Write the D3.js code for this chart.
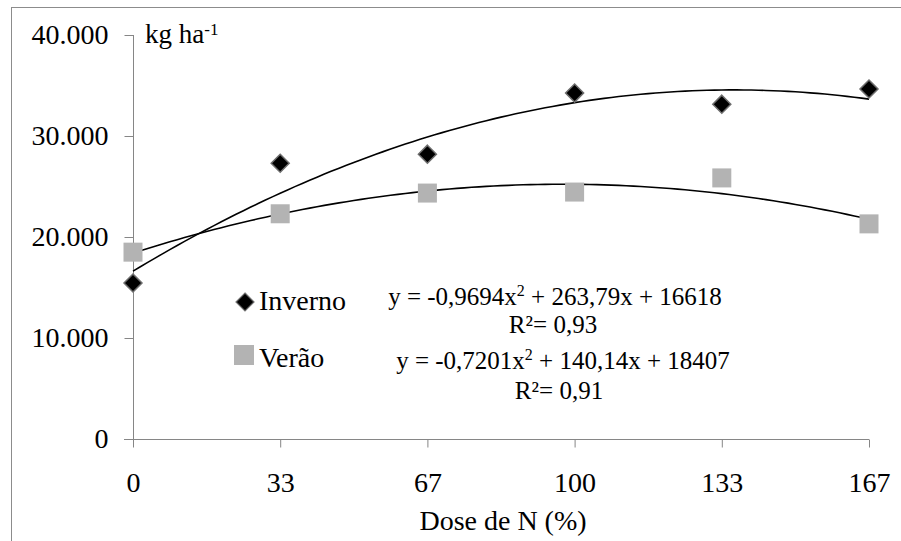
<!DOCTYPE html>
<html><head><meta charset="utf-8">
<script src="https://cdn.jsdelivr.net/npm/d3@7"></script>
</head>
<body style="margin:0;background:#fff"><svg id="c" width="901" height="541"></svg>
<script>
const doses = [0, 100/3, 200/3, 100, 400/3, 500/3];
const doseLabels = ["0","33","67","100","133","167"];
const inverno = [15450, 27300, 28200, 34250, 33150, 34650];
const verao = [18500, 22300, 24350, 24450, 25850, 21300];
const invernoCoef = [-0.9694, 263.79, 16618];
const veraoCoef = [-0.7201, 140.14, 18407];
const yTicks = [0, 10000, 20000, 30000, 40000];

const FONT = '"Liberation Serif"';
const svg = d3.select("#c");
svg.append("rect").attr("x",11.5).attr("y",7.5).attr("width",900).attr("height",540)
  .attr("fill","none").attr("stroke","#8c8c8c").attr("stroke-width",1);

const x = d3.scaleLinear().domain([0, 500/3]).range([133, 869]);
const y = d3.scaleLinear().domain([0, 40000]).range([439, 35]);
const loc = d3.formatLocale({decimal:",", thousands:".", grouping:[3], currency:["",""]});
const fmt = loc.format(",");

const gy = svg.append("g").attr("transform","translate(133.5,0)")
  .call(d3.axisLeft(y).tickValues(yTicks).tickFormat(fmt).tickSize(9).tickSizeOuter(0).tickPadding(16));
gy.attr("font-family","Liberation Serif");
gy.select(".domain").remove();
gy.append("line").attr("x1",0).attr("x2",0).attr("y1",y(40000)).attr("y2",447).attr("stroke","#868686");
gy.selectAll(".tick line").attr("stroke","#868686");
gy.selectAll(".tick text").attr("font-size",28).attr("fill","#000");

const gx = svg.append("g").attr("transform","translate(0,439.5)")
  .call(d3.axisBottom(x).tickValues(doses).tickFormat((d,i)=>doseLabels[i]).tickSize(8).tickSizeOuter(0).tickPadding(25));
gx.attr("font-family","Liberation Serif");
gx.select(".domain").remove();
gx.append("line").attr("x1",124).attr("x2",x(500/3)).attr("y1",0).attr("y2",0).attr("stroke","#868686");
gx.selectAll(".tick line").attr("stroke","#868686");
gx.selectAll(".tick text").attr("font-size",28).attr("fill","#000");

const T = (xx, yy, size) => svg.append("text").attr("x",xx).attr("y",yy).attr("font-size",size).attr("fill","#000");

T(503,530,28).attr("text-anchor","middle").text("Dose de N (%)");
const ku = T(145,43,27);
ku.append("tspan").text("kg ha");
ku.append("tspan").attr("font-size",17).attr("dy",-8).text("-1");

// trend curves (from the fitted equations)
const xs = d3.range(0, 500/3 + 0.01, 500/300);
const poly = c => v => c[0]*v*v + c[1]*v + c[2];
const line = d3.line().x(d=>x(d[0])).y(d=>y(d[1]));
[invernoCoef, veraoCoef].forEach(c=>{
  const f = poly(c);
  svg.append("path").attr("d", line(xs.map(v=>[v, f(v)]))).attr("fill","none").attr("stroke","#000").attr("stroke-width",1.6);
});

// markers
const sq = 19;
svg.selectAll(".sq").data(verao).enter().append("rect")
  .attr("x",(d,i)=>x(doses[i])-sq/2).attr("y",d=>y(d)-sq/2).attr("width",sq).attr("height",sq)
  .attr("fill","#b3b3b3");
const dm = 9;
const diamond = (cx,cy,r)=>`M${cx},${cy-r}L${cx+r},${cy}L${cx},${cy+r}L${cx-r},${cy}Z`;
svg.selectAll(".dm").data(inverno).enter().append("path")
  .attr("d",(d,i)=>diamond(x(doses[i]), y(d), dm))
  .attr("fill","#000").attr("stroke","#6e6e6e").attr("stroke-width",1.5);

// legend
svg.append("path").attr("d",diamond(245,302,9)).attr("fill","#000").attr("stroke","#6e6e6e").attr("stroke-width",1.2);
T(259,310,28).text("Inverno");
svg.append("rect").attr("x",234).attr("y",345).attr("width",20).attr("height",20).attr("fill","#b3b3b3");
T(259,367,28).text("Verão");

// equations
const eq = (xx, yy, a, b, c) => {
  const t = T(xx,yy,25).attr("text-anchor","middle");
  t.append("tspan").text(`y = ${a}x`);
  t.append("tspan").attr("font-size",16).attr("dy",-9).text("2");
  t.append("tspan").attr("dy",9).text(` + ${b}x + ${c}`);
};
eq(555, 305, "-0,9694", "263,79", "16618");
T(553,333,25).attr("text-anchor","middle").text("R²= 0,93");
eq(563, 369, "-0,7201", "140,14", "18407");
T(559,399,25).attr("text-anchor","middle").text("R²= 0,91");

svg.selectAll("text").each(function(){
  this.setAttribute("font-family", "Liberation Serif");
  this.style.setProperty("font-family", FONT);
});
</script></body></html>
